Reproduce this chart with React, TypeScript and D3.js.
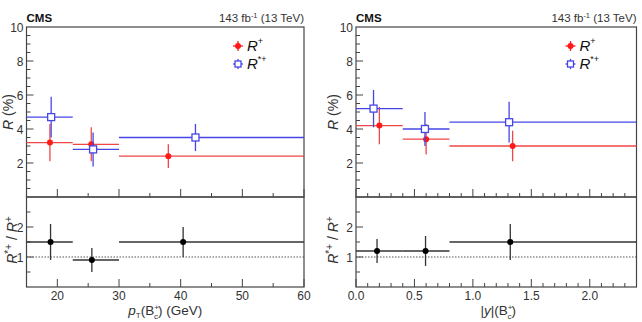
import React, { useRef, useEffect } from 'react';
import * as d3 from 'd3';

// transverse momentum bins (GeV)
const ptBins: [number, number][] = [[15, 22.5], [22.5, 30], [30, 60]];
const ptRPlusX = [18.8, 25.5, 38.0];
const ptRPlus = [3.2, 3.1, 2.4];
const ptRPlusErr = [1.1, 1.0, 0.7];
const ptRStarX = [19.0, 25.8, 42.4];
const ptRStar = [4.7, 2.8, 3.5];
const ptRStarErr = [1.2, 1.0, 0.8];
const ptRatioX = [18.9, 25.6, 40.4];
const ptRatio = [1.5, 0.9, 1.5];
const ptRatioErr = [0.6, 0.4, 0.5];
const ptTicks = [20, 30, 40, 50, 60];

// rapidity bins
const yBins: [number, number][] = [[0, 0.4], [0.4, 0.8], [0.8, 2.4]];
const yRPlusX = [0.2, 0.6, 1.34];
const yRPlus = [4.2, 3.4, 3.0];
const yRPlusErr = [1.1, 0.9, 0.9];
const yRStarX = [0.15, 0.59, 1.31];
const yRStar = [5.2, 4.0, 4.4];
const yRStarErr = [1.1, 1.0, 1.2];
const yRatioX = [0.18, 0.595, 1.32];
const yRatio = [1.2, 1.2, 1.5];
const yRatioErr = [0.4, 0.5, 0.6];
const yTicks = [0, 0.5, 1, 1.5, 2];

const topTicks = [2, 4, 6, 8, 10];
const ratioTicks = [1, 2];

const RED = '#ff1a1a';
const RED_LINE = '#f04646';
const BLUE = '#4646e6';
const AXIS = '#444';
const TEXT = '#333';
const FONT = '"Liberation Sans", Arial, sans-serif';

interface Series { bins: [number, number][]; x: number[]; v: number[]; e: number[] }

interface PanelCfg {
  left: number;
  right: number;
  domain: [number, number];
  majors: number[];
  minorStep: number;
  fmt: (d: number) => string;
  rPlus: Series;
  rStar: Series;
  ratio: Series;
  xTitle: 'pt' | 'y';
}

const TOP = 27, MID = 197, BOT = 287;

function drawPanel(svg: d3.Selection<SVGSVGElement, unknown, null, undefined>, c: PanelCfg) {
  const g = svg.append('g');
  const x = d3.scaleLinear().domain(c.domain).range([c.left, c.right]);
  const yTop = d3.scaleLinear().domain([0, 10]).range([MID, TOP]);
  const yBot = d3.scaleLinear().domain([0, 3]).range([BOT, MID]);

  // frames
  g.append('rect').attr('x', c.left).attr('y', TOP).attr('width', c.right - c.left).attr('height', MID - TOP)
    .attr('fill', 'none').attr('stroke', AXIS).attr('stroke-width', 1.2);
  g.append('rect').attr('x', c.left).attr('y', MID).attr('width', c.right - c.left).attr('height', BOT - MID)
    .attr('fill', 'none').attr('stroke', AXIS).attr('stroke-width', 1.2);

  // x ticks on both pane bottoms
  const minors = d3.range(c.domain[0], c.domain[1] + 1e-9, c.minorStep)
    .filter(v => !c.majors.some(m => Math.abs(m - v) < 1e-6));
  [MID, BOT].forEach(base => {
    c.majors.forEach(m => {
      g.append('line').attr('x1', x(m)).attr('x2', x(m)).attr('y1', base).attr('y2', base - 8)
        .attr('stroke', AXIS);
    });
    minors.forEach(m => {
      g.append('line').attr('x1', x(m)).attr('x2', x(m)).attr('y1', base).attr('y2', base - 4)
        .attr('stroke', AXIS);
    });
  });
  c.majors.forEach(m => {
    g.append('text').attr('x', x(m)).attr('y', BOT + 12.5).attr('text-anchor', 'middle')
      .attr('font-size', 12).attr('fill', TEXT).text(c.fmt(m));
  });

  // y ticks, top pane
  d3.range(0.5, 10, 0.5).forEach(v => {
    const major = topTicks.includes(v);
    g.append('line').attr('x1', c.left).attr('x2', c.left + (major ? 7 : 4))
      .attr('y1', yTop(v)).attr('y2', yTop(v)).attr('stroke', AXIS);
  });
  topTicks.forEach(v => {
    g.append('text').attr('x', c.left - 3).attr('y', yTop(v) + 4.5).attr('text-anchor', 'end')
      .attr('font-size', 12).attr('fill', TEXT).text(v);
  });
  // y ticks, ratio pane
  [0.5, 1, 1.5, 2, 2.5].forEach(v => {
    const major = ratioTicks.includes(v);
    g.append('line').attr('x1', c.left).attr('x2', c.left + (major ? 7 : 4))
      .attr('y1', yBot(v)).attr('y2', yBot(v)).attr('stroke', AXIS);
  });
  ratioTicks.forEach(v => {
    g.append('text').attr('x', c.left - 3).attr('y', yBot(v) + 4.5).attr('text-anchor', 'end')
      .attr('font-size', 12).attr('fill', TEXT).text(v);
  });

  // unity reference line
  g.append('line').attr('x1', c.left).attr('x2', c.right).attr('y1', yBot(1)).attr('y2', yBot(1))
    .attr('stroke', '#555').attr('stroke-dasharray', '1.5,1.5');

  const errBars = (s: Series, y: d3.ScaleLinear<number, number>, color: string) => {
    s.bins.forEach((b, i) => {
      g.append('line').attr('x1', x(b[0])).attr('x2', x(b[1])).attr('y1', y(s.v[i])).attr('y2', y(s.v[i]))
        .attr('stroke', color).attr('stroke-width', 1.3);
      g.append('line').attr('x1', x(s.x[i])).attr('x2', x(s.x[i]))
        .attr('y1', y(s.v[i] - s.e[i])).attr('y2', y(s.v[i] + s.e[i]))
        .attr('stroke', color).attr('stroke-width', 1.3);
    });
  };

  errBars(c.rPlus, yTop, RED_LINE);
  c.rPlus.x.forEach((xv, i) => {
    g.append('circle').attr('cx', x(xv)).attr('cy', yTop(c.rPlus.v[i])).attr('r', 3).attr('fill', RED);
  });
  errBars(c.rStar, yTop, BLUE);
  c.rStar.x.forEach((xv, i) => {
    g.append('rect').attr('x', x(xv) - 3.5).attr('y', yTop(c.rStar.v[i]) - 3.5).attr('width', 7).attr('height', 7)
      .attr('fill', 'white').attr('stroke', BLUE).attr('stroke-width', 1.3);
  });
  errBars(c.ratio, yBot, '#333');
  c.ratio.x.forEach((xv, i) => {
    g.append('circle').attr('cx', x(xv)).attr('cy', yBot(c.ratio.v[i])).attr('r', 3).attr('fill', '#000');
  });

  // legend
  const lx = c.right - 66;
  const ly1 = 46, ly2 = 64;
  g.append('line').attr('x1', lx - 5).attr('x2', lx + 5).attr('y1', ly1).attr('y2', ly1).attr('stroke', RED).attr('stroke-width', 1.3);
  g.append('line').attr('x1', lx).attr('x2', lx).attr('y1', ly1 - 5).attr('y2', ly1 + 5).attr('stroke', RED).attr('stroke-width', 1.3);
  g.append('circle').attr('cx', lx).attr('cy', ly1).attr('r', 3).attr('fill', RED);
  g.append('line').attr('x1', lx - 5).attr('x2', lx + 5).attr('y1', ly2).attr('y2', ly2).attr('stroke', BLUE).attr('stroke-width', 1.3);
  g.append('line').attr('x1', lx).attr('x2', lx).attr('y1', ly2 - 5).attr('y2', ly2 + 5).attr('stroke', BLUE).attr('stroke-width', 1.3);
  g.append('rect').attr('x', lx - 3).attr('y', ly2 - 3).attr('width', 6).attr('height', 6)
    .attr('fill', 'white').attr('stroke', BLUE).attr('stroke-width', 1.3);

  const l1 = g.append('text').attr('x', lx + 9).attr('y', ly1 + 5).attr('font-size', 15).attr('fill', '#111');
  l1.append('tspan').attr('font-style', 'italic').text('R');
  l1.append('tspan').attr('font-size', 9).attr('dy', -7).text('+');
  const l2 = g.append('text').attr('x', lx + 9).attr('y', ly2 + 5).attr('font-size', 15).attr('fill', '#111');
  l2.append('tspan').attr('font-style', 'italic').text('R');
  l2.append('tspan').attr('font-size', 9).attr('dy', -7).text('*+');

  // header
  g.append('text').attr('x', c.left).attr('y', 22).attr('font-size', 11.5).attr('font-weight', 'bold')
    .attr('fill', '#111').text('CMS');
  const lumi = g.append('text').attr('x', c.right).attr('y', 22).attr('text-anchor', 'end')
    .attr('font-size', 11.5).attr('fill', TEXT);
  lumi.append('tspan').text('143 fb');
  lumi.append('tspan').attr('font-size', 7.5).attr('dy', -4).text('-1');
  lumi.append('tspan').attr('dy', 4).text(' (13 TeV)');

  // y titles
  const tyX = Math.max(c.left - 18, 13);
  const ty = g.append('text').attr('transform', `translate(${tyX},${(TOP + MID) / 2}) rotate(-90)`)
    .attr('text-anchor', 'middle').attr('font-size', 14).attr('fill', TEXT);
  ty.append('tspan').attr('font-style', 'italic').text('R');
  ty.append('tspan').text(' (%)');

  const trX = Math.max(c.left - 18, 17);
  const tr = g.append('text').attr('transform', `translate(${trX},${(MID + BOT) / 2 - 2}) rotate(-90)`)
    .attr('text-anchor', 'middle').attr('font-size', 14).attr('fill', TEXT);
  tr.append('tspan').attr('font-style', 'italic').text('R');
  tr.append('tspan').attr('font-size', 10).attr('dy', -5).text('*+');
  tr.append('tspan').attr('dy', 5).text(' / ');
  tr.append('tspan').attr('font-style', 'italic').text('R');
  tr.append('tspan').attr('font-size', 10).attr('dy', -5).text('+');

  // x title
  const cx = (c.left + c.right) / 2 + (c.xTitle === 'pt' ? 0 : 2);
  const tx = g.append('text').attr('x', cx).attr('y', 315).attr('text-anchor', 'middle')
    .attr('font-size', 13.5).attr('fill', TEXT);
  if (c.xTitle === 'pt') {
    tx.append('tspan').attr('font-style', 'italic').text('p');
    tx.append('tspan').attr('font-size', 8).attr('dy', 3).text('T');
    tx.append('tspan').attr('dy', -3).text('(B');
  } else {
    tx.append('tspan').text('|');
    tx.append('tspan').attr('font-style', 'italic').text('y');
    tx.append('tspan').text('|(B');
  }
  tx.append('tspan').attr('font-size', 8).attr('dy', -5).text('+');
  tx.append('tspan').attr('font-size', 8).attr('dx', -5).attr('dy', 9).text('c');
  tx.append('tspan').attr('dy', -4).text(c.xTitle === 'pt' ? ') (GeV)' : ')');
}

const App = () => {
  const ref = useRef<SVGSVGElement>(null);

  useEffect(() => {
    const svg = d3.select(ref.current!);
    svg.selectAll('*').remove();
    svg.append('rect').attr('width', 642).attr('height', 322).attr('fill', 'white');

    drawPanel(svg, {
      left: 26.5, right: 304, domain: [15, 60], majors: ptTicks, minorStep: 5, fmt: d => String(d),
      rPlus: { bins: ptBins, x: ptRPlusX, v: ptRPlus, e: ptRPlusErr },
      rStar: { bins: ptBins, x: ptRStarX, v: ptRStar, e: ptRStarErr },
      ratio: { bins: ptBins, x: ptRatioX, v: ptRatio, e: ptRatioErr },
      xTitle: 'pt',
    });
    drawPanel(svg, {
      left: 356, right: 636.5, domain: [0, 2.4], majors: yTicks, minorStep: 0.1, fmt: d3.format('.1f'),
      rPlus: { bins: yBins, x: yRPlusX, v: yRPlus, e: yRPlusErr },
      rStar: { bins: yBins, x: yRStarX, v: yRStar, e: yRStarErr },
      ratio: { bins: yBins, x: yRatioX, v: yRatio, e: yRatioErr },
      xTitle: 'y',
    });
  }, []);

  return (
    <svg ref={ref} width={642} height={322}
      style={{ position: 'absolute', left: 0, top: 0, fontFamily: FONT }} />
  );
};

export default App;
